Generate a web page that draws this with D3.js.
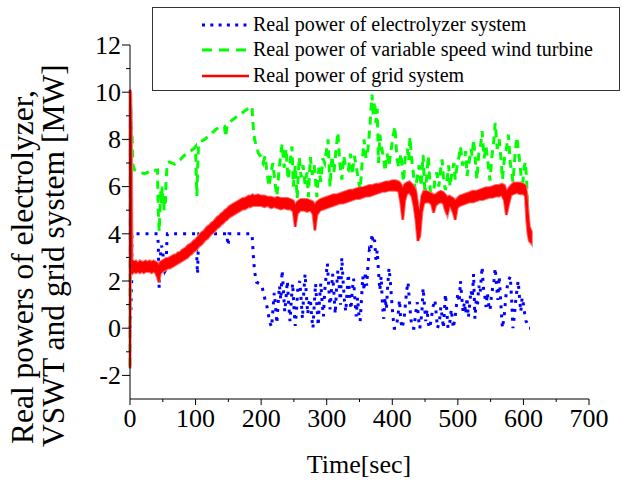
<!DOCTYPE html>
<html>
<head>
<meta charset="utf-8">
<script src="https://cdn.jsdelivr.net/npm/d3@7/dist/d3.min.js"></script>
<style>
  html, body { margin: 0; padding: 0; background: #fff; }
  svg { display: block; }
  text { font-family: "Liberation Serif", "Times New Roman", serif; fill: #000; }
</style>
</head>
<body>
<svg id="chart" width="623" height="484"></svg>
<script>
// Axis ticks
const xTicks = [0, 100, 200, 300, 400, 500, 600, 700];
const yTicks = [-2, 0, 2, 4, 6, 8, 10, 12];

// Series names
const seriesNames = [
  "Real power of electrolyzer system",
  "Real power of variable speed wind turbine",
  "Real power of grid system"
];

// Electrolyzer real power [t (s), MW]
const electrolyzer = [
  [0,0.0],[1.2,0.6],[2.0,1.7],[2.6,2.0],[3,4],[42,4],[43,3.6],[43.5,3.1],[44,2.15],[44.5,1.7],
  [46,3.0],[48,3.5],[50,3.3],[51,2.8],[52,2.5],[53,2.4],[55,2.5],[56,3.5],[57,4],[100,4],
  [101,3.75],[102,2.9],[103,2.3],[104,3.3],[105,4],[148,4],[149,3.5],[150,3.6],[151,4],[186,4],
  [187,3.6],[188,3.1],[189,2.75],[190,2.4],[193,1.95],[197,1.9],[201,1.8],[204,1.45],[206,1.2],[209,0.9],
  [211,0.6],[213,0.25],[216,0.05],[218,0.8],[220,1.5],[222,0.9],[224,0.2],[226,1.1],[228,1.8],[230,1.2],
  [232,2.45],[234,1.6],[236,0.7],[238,1.3],[240,2.0],[242,1.0],[244,0.3],[246,1.2],[248,1.9],[250,0.9],
  [252,0.1],[254,0.8],[256,1.7],[259,2.0],[261,1.2],[263,0.4],[265,1.5],[267,2.3],[269,1.4],[271,0.6],
  [273,1.1],[275,1.25],[277,0.5],[279,0.0],[281,1.0],[283,1.9],[285,1.0],[287,0.1],[289,1.2],[291,1.9],
  [293,1.1],[295,0.5],[297,1.6],[299,2.2],[301,2.75],[303,1.8],[305,0.8],[307,1.5],[309,2.3],[311,1.5],
  [313,0.6],[315,1.7],[317,2.45],[319,1.8],[321,1.0],[323,3.0],[325,2.0],[327,1.2],[329,0.7],[331,1.5],
  [333,2.3],[335,1.4],[337,0.8],[339,1.6],[341,2.1],[343,1.2],[345,0.5],[347,1.3],[349,0.6],[351,0.3],
  [353,1.2],[355,2.2],[357,1.6],[359,2.4],[361,1.8],[363,2.7],[365,3.3],[367,3.2],[369,4.0],[371,3.6],
  [373,3.75],[375,2.9],[377,3.3],[379,2.4],[381,1.6],[383,2.2],[385,1.0],[387,0.4],[389,1.3],[391,0.8],
  [393,1.8],[395,2.55],[397,2.0],[399,1.2],[401,0.5],[403,0.0],[406,0.0],[409,0.6],[411,1.2],[413,0.3],
  [415,0.0],[418,0.4],[420,1.0],[422,1.6],[424,1.95],[426,1.2],[428,0.5],[430,0.0],[433,0.0],[436,0.7],
  [438,1.1],[440,0.4],[442,0.0],[445,0.6],[447,1.7],[449,1.0],[451,0.3],[453,0.8],[455,0.2],[457,0.0],
  [460,0.5],[462,0.9],[465,1.2],[467,0.6],[469,0.0],[472,0.3],[474,0.9],[476,0.5],[478,0.0],[481,1.45],
  [483,0.8],[485,0.0],[488,0.3],[490,0.8],[493,0.0],[496,0.5],[498,1.0],[500,1.5],[502,1.1],[504,2.0],
  [506,1.3],[508,0.7],[510,1.1],[512,0.6],[514,1.3],[516,0.45],[518,1.0],[520,1.6],[522,1.3],[524,2.3],
  [526,0.4],[528,1.2],[530,1.0],[532,1.8],[534,1.5],[537,2.6],[539,1.7],[541,1.4],[543,0.9],[545,1.5],
  [547,1.0],[549,0.75],[551,1.3],[553,1.7],[555,2.0],[557,2.55],[559,1.8],[561,1.2],[563,2.2],[565,1.3],
  [567,0.4],[568,0.0],[571,0.6],[573,1.3],[575,1.7],[577,2.0],[580,2.2],[582,1.2],[584,0.0],[586,0.5],
  [588,1.1],[590,1.6],[592,2.0],[594,1.3],[596,0.7],[598,1.3],[600,1.0],[602,0.6],[604,0.3],[606,0.2],
  [608,0.0],[610,0.0]
];

// Variable speed wind turbine real power [t (s), MW]
const windTurbine = [
  [0,-1.6],[0.7,10.1],[1.8,8.6],[3,8.4],[4.5,6.9],[7,6.7],[12,6.65],[17,6.6],[22,6.55],[27,6.6],
  [32,6.7],[37,6.68],[42,6.7],[43,5.0],[44.5,4.1],[46,5.2],[47,5.8],[48,5.3],[49,6.0],[50,5.2],
  [51,5.6],[52,5.0],[53,5.6],[54,5.3],[55,6.3],[57,7.0],[60,7.05],[64,7.0],[68,6.95],[72,7.05],
  [77,7.15],[82,7.3],[87,7.4],[92,7.5],[97,7.6],[100,7.7],[101,6.5],[102,5.6],[103,6.6],[104.5,7.8],
  [108,7.9],[114,8.0],[120,8.15],[126,8.3],[132,8.45],[138,8.5],[144,8.55],[146,8.1],[148,8.6],[155,8.8],
  [162,8.95],[170,9.1],[177,9.25],[183,9.35],[186,9.4],[188,8.5],[190,8.0],[193,7.7],[196,7.4],[199,7.3],
  [203,7.0],[206,7.3],[209,6.6],[212,6.0],[215,6.6],[218,7.0],[221,6.2],[224,5.6],[227,6.6],[230,7.4],
  [232,7.8],[235,6.8],[238,7.6],[241,6.3],[244,7.0],[247,7.7],[249,6.0],[252,6.9],[255,5.5],[258,7.25],
  [261,6.4],[264,6.9],[267,6.1],[270,6.6],[272,5.55],[275,7.25],[278,6.5],[281,6.9],[285,5.55],[288,6.8],
  [291,6.2],[294,7.2],[297,7.0],[300,7.6],[302,8.0],[305,6.0],[308,7.3],[311,6.6],[314,7.5],[317,8.3],
  [320,7.0],[323,6.3],[326,7.3],[329,6.8],[333,6.7],[336,7.4],[339,6.5],[342,7.3],[345,6.9],[348,6.3],
  [351,5.85],[354,7.0],[357,8.0],[360,7.2],[363,7.6],[366,8.6],[369,9.9],[371,9.0],[373,9.6],[375,8.7],
  [377,9.3],[379,7.0],[381,8.2],[384,7.6],[387,7.2],[389,6.65],[392,7.4],[395,6.9],[398,7.5],[401,8.1],
  [404,8.55],[407,7.2],[410,6.8],[413,7.4],[417,6.2],[420,7.3],[423,7.6],[425,7.1],[427,8.1],[429,7.3],
  [432,6.6],[435,5.85],[438,6.4],[441,6.9],[444,6.0],[447,7.35],[450,5.6],[453,6.6],[455,7.3],[458,5.8],
  [462,5.4],[465,6.3],[468,6.6],[471,6.0],[474,6.8],[476,7.15],[478,6.4],[481,5.85],[484,6.4],[486,6.9],
  [488,6.0],[491,6.6],[494,7.0],[496,6.3],[499,6.9],[502,7.3],[504,7.7],[507,6.9],[510,7.1],[512,7.5],
  [514,6.45],[517,7.0],[520,7.6],[522,7.3],[524,8.0],[527,7.0],[529,6.3],[532,7.4],[535,7.8],[537,8.35],
  [540,7.2],[543,7.7],[546,7.0],[549,6.25],[552,7.3],[555,8.0],[557,8.7],[560,7.6],[563,8.0],[566,7.1],
  [568,6.3],[571,7.2],[574,7.6],[577,8.2],[580,7.0],[582,6.6],[584,6.2],[587,7.3],[590,8.1],[593,7.4],
  [596,6.6],[598,5.85],[601,6.8],[603,7.05],[605,6.2],[607,4.6],[609,4.0],[611,3.9]
];

// Grid real power, ripple envelope [t (s), low MW, high MW]
const gridPower = [
  [0,-1.7,10.1],[1,7.8,10.0],[2,2.4,8.6],[3,2.3,2.9],[6,2.4,2.8],[9,2.35,2.85],[12,2.4,2.75],[15,2.35,2.85],
  [18,2.4,2.8],[21,2.35,2.8],[24,2.4,2.85],[27,2.4,2.8],[30,2.4,2.85],[33,2.35,2.8],[36,2.4,2.85],[39,2.35,2.8],
  [42,2.15,2.75],[44,1.95,2.6],[46,2.3,2.8],[49,2.4,2.85],[52,2.45,2.9],[55,2.5,2.95],[58,2.55,2.95],[61,2.55,3.0],
  [64,2.6,3.05],[67,2.65,3.1],[70,2.7,3.1],[73,2.75,3.2],[76,2.8,3.2],[79,2.85,3.3],[82,2.9,3.35],[85,2.95,3.4],
  [88,3.0,3.5],[91,3.1,3.55],[94,3.15,3.6],[97,3.25,3.7],[100,3.3,3.75],[103,3.4,3.85],[106,3.5,3.95],[109,3.55,4.05],
  [112,3.65,4.1],[115,3.75,4.2],[118,3.8,4.3],[121,3.9,4.35],[124,4.0,4.45],[127,4.05,4.5],[130,4.15,4.6],[133,4.25,4.7],
  [136,4.3,4.75],[139,4.4,4.85],[142,4.45,4.9],[145,4.55,5.0],[148,4.6,5.05],[151,4.7,5.15],[154,4.75,5.2],[157,4.8,5.25],
  [160,4.85,5.3],[163,4.9,5.35],[166,4.95,5.4],[169,5.0,5.45],[172,5.05,5.5],[175,5.05,5.5],[178,5.1,5.55],[181,5.15,5.6],
  [184,5.15,5.6],[187,5.2,5.65],[190,5.2,5.6],[195,5.2,5.65],[200,5.2,5.6],[205,5.15,5.6],[210,5.2,5.55],[215,5.1,5.55],
  [220,5.15,5.5],[225,5.1,5.55],[230,5.05,5.5],[235,5.1,5.5],[240,5.05,5.5],[245,5.05,5.45],[249,4.95,5.4],[252,4.3,5.2],
  [255,4.85,5.35],[260,5.0,5.45],[265,5.0,5.45],[270,4.95,5.45],[275,5.0,5.4],[279,4.85,5.35],[282,4.15,5.2],[285,4.8,5.35],
  [290,5.0,5.45],[295,5.05,5.5],[300,5.1,5.55],[305,5.15,5.6],[310,5.2,5.65],[315,5.25,5.65],[320,5.3,5.7],[325,5.3,5.75],
  [330,5.35,5.8],[335,5.4,5.85],[340,5.45,5.85],[345,5.5,5.9],[350,5.5,5.95],[355,5.55,5.95],[360,5.6,6.0],[365,5.6,6.05],
  [370,5.65,6.05],[375,5.7,6.1],[380,5.75,6.1],[385,5.8,6.15],[390,5.8,6.2],[395,5.85,6.2],[400,5.85,6.25],[405,5.85,6.25],
  [410,5.8,6.2],[413,5.3,6.1],[416,4.6,5.9],[419,5.4,6.1],[422,5.7,6.15],[426,5.75,6.2],[430,5.6,6.1],[433,5.2,6.0],
  [436,4.6,5.8],[439,3.7,5.2],[442,3.9,4.9],[445,4.9,5.6],[448,5.3,5.8],[452,5.35,5.8],[456,5.35,5.75],[460,5.25,5.7],
  [463,4.9,5.65],[466,5.2,5.65],[470,5.3,5.75],[474,5.35,5.8],[478,5.3,5.75],[481,5.0,5.65],[484,4.8,5.55],[487,5.2,5.6],
  [490,5.1,5.55],[493,4.9,5.5],[496,4.6,5.4],[499,5.1,5.5],[503,5.2,5.6],[508,5.25,5.65],[513,5.3,5.7],[518,5.35,5.75],
  [523,5.35,5.8],[528,5.4,5.8],[533,5.45,5.85],[538,5.45,5.9],[543,5.5,5.95],[548,5.55,5.95],[553,5.55,6.0],[558,5.6,6.05],
  [563,5.6,6.05],[567,5.65,6.1],[571,5.4,6.05],[574,4.8,5.8],[577,5.2,5.9],[581,5.65,6.05],[585,5.7,6.15],[590,5.75,6.15],
  [595,5.7,6.15],[600,5.7,6.1],[603,5.6,6.05],[605,4.6,5.7],[607,4.0,4.9],[609,3.7,4.3],[612,3.6,4.1]
];

const svg = d3.select("#chart");

const x = d3.scaleLinear().domain([0, 700]).range([130, 589]);
const y = d3.scaleLinear().domain([-3, 12]).range([399, 45]);

const colors = { elec: "#0000ff", wind: "#00ff00", grid: "#ff0000" };

// Data layers: electrolyzer, turbine, then grid on top
const line = d3.line().x(d => x(d[0])).y(d => y(d[1]));

svg.append("path")
  .datum(electrolyzer)
  .attr("d", line)
  .attr("fill", "none")
  .attr("stroke", colors.elec)
  .attr("stroke-width", 3)
  .attr("stroke-dasharray", "3 6");

svg.append("path")
  .datum(windTurbine)
  .attr("d", line)
  .attr("fill", "none")
  .attr("stroke", colors.wind)
  .attr("stroke-width", 3)
  .attr("stroke-dasharray", "8 6");

const band = d3.area()
  .x(d => x(d[0]))
  .y0(d => y(d[1]))
  .y1(d => y(d[2]));

// soft fringe of the ripple, then the solid band
svg.append("path")
  .datum(gridPower)
  .attr("d", band)
  .attr("fill", "none")
  .attr("stroke", "#ff7070")
  .attr("stroke-width", 3);

svg.append("path")
  .datum(gridPower)
  .attr("d", band)
  .attr("fill", colors.grid)
  .attr("stroke", colors.grid)
  .attr("stroke-width", 1);

// Axes
const xAxis = svg.append("g").attr("transform", `translate(0,${y(-3)})`);
xAxis.append("line")
  .attr("x1", x(0)).attr("x2", x(700))
  .attr("stroke", "#000").attr("stroke-width", 1);
xAxis.selectAll("line.major").data(xTicks).join("line")
  .attr("class", "major")
  .attr("x1", d => x(d)).attr("x2", d => x(d))
  .attr("y1", 0).attr("y2", 6)
  .attr("stroke", "#000");
xAxis.selectAll("line.minor").data(xTicks.slice(0, -1).map(d => d + 50)).join("line")
  .attr("class", "minor")
  .attr("x1", d => x(d)).attr("x2", d => x(d))
  .attr("y1", 0).attr("y2", 3)
  .attr("stroke", "#000");
xAxis.selectAll("text").data(xTicks).join("text")
  .attr("x", d => x(d))
  .attr("y", 28)
  .attr("text-anchor", "middle")
  .attr("font-size", 26)
  .text(d => d);

const yAxis = svg.append("g");
yAxis.append("line")
  .attr("x1", x(0)).attr("x2", x(0))
  .attr("y1", y(12)).attr("y2", y(-3))
  .attr("stroke", "#000").attr("stroke-width", 1);
yAxis.selectAll("line.major").data(yTicks).join("line")
  .attr("class", "major")
  .attr("x1", x(0) - 8).attr("x2", x(0))
  .attr("y1", d => y(d)).attr("y2", d => y(d))
  .attr("stroke", "#000");
yAxis.selectAll("line.minor").data(yTicks.map(d => d + 1).filter(d => d < 12)).join("line")
  .attr("class", "minor")
  .attr("x1", x(0) - 4).attr("x2", x(0))
  .attr("y1", d => y(d)).attr("y2", d => y(d))
  .attr("stroke", "#000");
yAxis.selectAll("text").data(yTicks).join("text")
  .attr("x", x(0) - 9)
  .attr("y", d => y(d))
  .attr("dy", "0.34em")
  .attr("text-anchor", "end")
  .attr("font-size", 26)
  .text(d => d);

// Axis titles
svg.append("text")
  .attr("x", 359).attr("y", 473)
  .attr("text-anchor", "middle")
  .attr("font-size", 26)
  .text("Time[sec]");

const yTitle = svg.append("g").attr("transform", "rotate(-90)");
yTitle.append("text")
  .attr("x", -444).attr("y", 33)
  .attr("font-size", 31.5)
  .text("Real powers of electrolyzer,");
yTitle.append("text")
  .attr("x", -447).attr("y", 64)
  .attr("font-size", 31.5)
  .text("VSWT and grid system [MW]");

// Legend
const legend = svg.append("g");
legend.append("rect")
  .attr("x", 152.5).attr("y", 7.5)
  .attr("width", 467).attr("height", 83)
  .attr("fill", "#fff")
  .attr("stroke", "#333").attr("stroke-width", 1);

const legendStyles = [
  { color: colors.elec, dash: "3 5.3", width: 3 },
  { color: colors.wind, dash: "10 7", width: 3 },
  { color: colors.grid, dash: null, width: 2.5 }
];
const rowY = [25, 50, 76];
seriesNames.forEach((name, i) => {
  const s = legendStyles[i];
  legend.append("line")
    .attr("x1", 202).attr("x2", 249)
    .attr("y1", rowY[i]).attr("y2", rowY[i])
    .attr("stroke", s.color)
    .attr("stroke-width", s.width)
    .attr("stroke-dasharray", s.dash);
  legend.append("text")
    .attr("x", 253).attr("y", rowY[i] + 6)
    .attr("font-size", 20)
    .text(name);
});
</script>
</body>
</html>
